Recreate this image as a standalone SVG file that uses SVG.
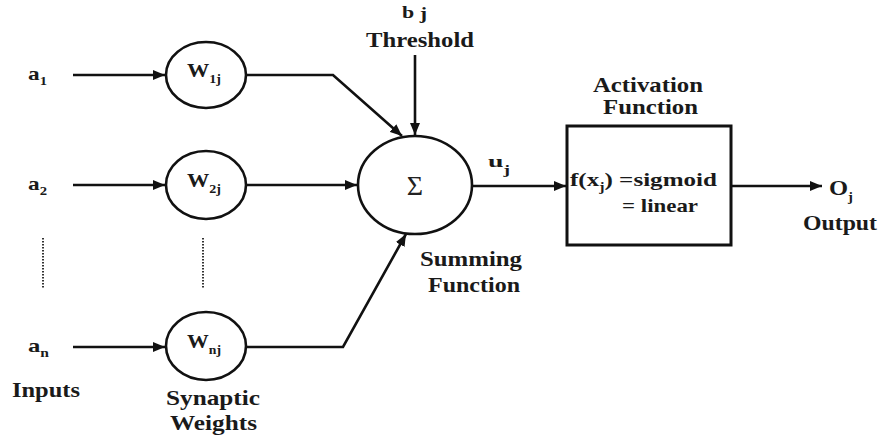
<svg xmlns="http://www.w3.org/2000/svg" width="879" height="436" viewBox="0 0 879 436">
  <style>
    .lbl { font-weight: bold; fill: #1a1a1a; }
    .big { font-size: 21px; }
    .sym { font-size: 19px; }
    .sub { font-size: 12px; }
    .wire { fill: none; stroke: #111; stroke-width: 2.6; }
    .node { fill: #fff; stroke: #111; stroke-width: 2.6; }
    .dots { stroke: #333; stroke-width: 2; stroke-dasharray: 1.5 1.5; }
  </style>
  <defs>
    <marker id="arrow" viewBox="0 0 12 10" refX="12" refY="5" markerWidth="12" markerHeight="10" markerUnits="userSpaceOnUse" orient="auto">
      <path d="M0,0 L12,5 L0,10 Z" fill="#111"/>
    </marker>
  </defs>
  <rect width="879" height="436" fill="#fff"/>

  <!-- connectors -->
  <g id="connectors">
    <line class="wire" x1="73" y1="75" x2="165" y2="75" marker-end="url(#arrow)"/>
    <line class="wire" x1="73" y1="185" x2="165" y2="185" marker-end="url(#arrow)"/>
    <line class="wire" x1="73" y1="347" x2="165" y2="347" marker-end="url(#arrow)"/>
    <polyline class="wire" points="247,75 333,75 402,136" marker-end="url(#arrow)"/>
    <line class="wire" x1="247" y1="185" x2="357" y2="185" marker-end="url(#arrow)"/>
    <polyline class="wire" points="247,347 343,347 406,234" marker-end="url(#arrow)"/>
    <line class="wire" x1="415" y1="55" x2="415" y2="135" marker-end="url(#arrow)"/>
    <line class="wire" x1="473" y1="186" x2="566" y2="186" marker-end="url(#arrow)"/>
    <line class="wire" x1="731" y1="186" x2="822" y2="186" marker-end="url(#arrow)"/>
    <line class="dots" x1="43" y1="238" x2="43" y2="288"/>
    <line class="dots" x1="203" y1="238" x2="203" y2="288"/>
  </g>

  <g font-family="Liberation Serif, Times New Roman, serif">
    <!-- inputs -->
    <g id="inputs">
      <text class="lbl sym" x="28" y="80" textLength="19" lengthAdjust="spacingAndGlyphs">a<tspan class="sub" dy="5">1</tspan></text>
      <text class="lbl sym" x="28" y="190" textLength="19" lengthAdjust="spacingAndGlyphs">a<tspan class="sub" dy="5">2</tspan></text>
      <text class="lbl sym" x="28" y="352" textLength="21" lengthAdjust="spacingAndGlyphs">a<tspan class="sub" dy="5">n</tspan></text>
      <text class="lbl big" x="12" y="397" textLength="68" lengthAdjust="spacingAndGlyphs">Inputs</text>
    </g>

    <!-- synaptic weights -->
    <g id="w1">
      <ellipse class="node" cx="206" cy="75" rx="40" ry="33"/>
      <text class="lbl sym" x="187" y="77" textLength="34" lengthAdjust="spacingAndGlyphs">W<tspan class="sub" dy="6">1j</tspan></text>
    </g>
    <g id="w2">
      <ellipse class="node" cx="206" cy="185" rx="40" ry="34"/>
      <text class="lbl sym" x="187" y="187" textLength="34" lengthAdjust="spacingAndGlyphs">W<tspan class="sub" dy="6">2j</tspan></text>
    </g>
    <g id="wn">
      <ellipse class="node" cx="206" cy="346" rx="40" ry="34"/>
      <text class="lbl sym" x="187" y="348" textLength="34" lengthAdjust="spacingAndGlyphs">W<tspan class="sub" dy="6">nj</tspan></text>
    </g>
    <g id="weights-label">
      <text class="lbl big" x="166" y="405" textLength="94" lengthAdjust="spacingAndGlyphs">Synaptic</text>
      <text class="lbl big" x="170" y="430" textLength="87" lengthAdjust="spacingAndGlyphs">Weights</text>
    </g>

    <!-- threshold -->
    <g id="threshold">
      <text class="lbl" font-size="17" x="402" y="18" textLength="25" lengthAdjust="spacingAndGlyphs">b <tspan dy="1">j</tspan></text>
      <text class="lbl big" x="366" y="47" textLength="108" lengthAdjust="spacingAndGlyphs">Threshold</text>
    </g>

    <!-- summing junction -->
    <g id="sum">
      <ellipse class="node" cx="415" cy="185" rx="57" ry="49"/>
      <text x="415" y="195" text-anchor="middle" font-size="28" fill="#222">Σ</text>
      <text class="lbl big" x="420" y="266" textLength="102" lengthAdjust="spacingAndGlyphs">Summing</text>
      <text class="lbl big" x="428" y="292" textLength="92" lengthAdjust="spacingAndGlyphs">Function</text>
      <text class="lbl" font-size="17" x="488" y="167" textLength="22" lengthAdjust="spacingAndGlyphs">u<tspan class="sub" dy="7">j</tspan></text>
    </g>

    <!-- activation -->
    <g id="activation">
      <text class="lbl big" x="593" y="92" textLength="110" lengthAdjust="spacingAndGlyphs">Activation</text>
      <text class="lbl big" x="603" y="114" textLength="95" lengthAdjust="spacingAndGlyphs">Function</text>
      <rect x="567" y="126" width="164" height="119" fill="none" stroke="#111" stroke-width="3"/>
      <text class="lbl sym" x="570" y="186" textLength="147" lengthAdjust="spacingAndGlyphs">f(x<tspan class="sub" dy="5">j</tspan><tspan dy="-5">) =sigmoid</tspan></text>
      <text class="lbl sym" x="622" y="212" textLength="76" lengthAdjust="spacingAndGlyphs">= linear</text>
    </g>

    <!-- output -->
    <g id="output">
      <text class="lbl" font-size="20" x="829" y="195" textLength="24" lengthAdjust="spacingAndGlyphs">O<tspan class="sub" dy="6">j</tspan></text>
      <text class="lbl big" x="803" y="230" textLength="74" lengthAdjust="spacingAndGlyphs">Output</text>
    </g>
  </g>
</svg>
